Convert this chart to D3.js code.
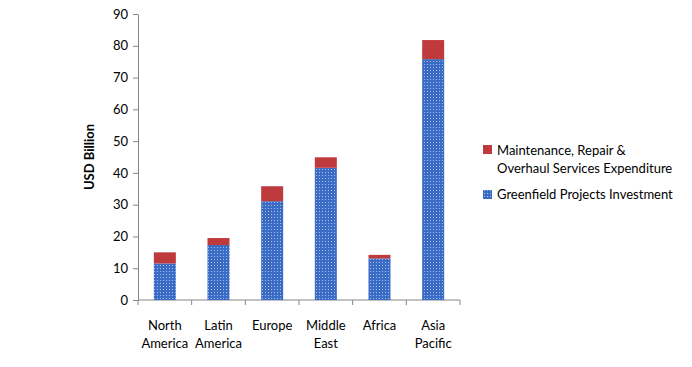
<!DOCTYPE html>
<html><head><meta charset="utf-8">
<script src="https://cdn.jsdelivr.net/npm/d3@7"></script>
<style>body{margin:0;background:#fff}text{font-family:Lato,"Open Sans",sans-serif}</style>
</head><body><svg id="c" width="692" height="367"></svg>
<script>
const categories = ["North America","Latin America","Europe","Middle East","Africa","Asia Pacific"];
const categoryLines = [["North","America"],["Latin","America"],["Europe"],["Middle","East"],["Africa"],["Asia","Pacific"]];
const greenfield = [11.5, 17.3, 31.1, 41.6, 13.1, 75.8];
const mro = [3.5, 2.2, 4.7, 3.3, 1.1, 6.0];
const yTicks = [0,10,20,30,40,50,60,70,80,90];
const seriesNames = ["Maintenance, Repair & Overhaul Services Expenditure","Greenfield Projects Investment"];

const svg = d3.select("#c");
const defs = svg.append("defs");
const pat = defs.append("pattern").attr("id","dots").attr("patternUnits","userSpaceOnUse").attr("width",3).attr("height",3);
pat.append("rect").attr("width",3).attr("height",3).attr("fill","#3b6cc5");
pat.append("rect").attr("x",1).attr("y",1).attr("width",1).attr("height",1).attr("fill","#a9c0ea");

const x = d3.scaleBand().domain(categories).range([138,460]).paddingInner(0.59).paddingOuter(0.295);
const y = d3.scaleLinear().domain([0,90]).range([300,14]);

const yAxis = svg.append("g").attr("transform","translate(138,0)")
  .call(d3.axisLeft(y).tickValues(yTicks).tickSize(5).tickSizeOuter(0).tickPadding(5));
yAxis.select(".domain").attr("stroke","#868686");
yAxis.selectAll(".tick line").attr("stroke","#868686");
yAxis.selectAll("text").attr("font-size",13).attr("fill","#000");

const xb = d3.scaleLinear().domain([0,categories.length]).range([138,460]);
const xg = svg.append("g");
xg.append("line").attr("x1",138).attr("x2",460).attr("y1",y(0)).attr("y2",y(0)).attr("stroke","#868686");
xg.selectAll("line.t").data(d3.range(categories.length+1)).join("line").attr("class","t")
  .attr("x1",d=>xb(d)).attr("x2",d=>xb(d)).attr("y1",y(0)).attr("y2",y(0)+5).attr("stroke","#868686");

const data = categories.map((c,i)=>({c, g:greenfield[i], m:mro[i]}));
svg.append("g").selectAll("rect").data(data).join("rect")
  .attr("x",d=>x(d.c)).attr("width",x.bandwidth())
  .attr("y",d=>y(d.g)).attr("height",d=>y(0)-y(d.g)).attr("fill","url(#dots)");
svg.append("g").selectAll("rect").data(data).join("rect")
  .attr("x",d=>x(d.c)).attr("width",x.bandwidth())
  .attr("y",d=>y(d.g+d.m)).attr("height",d=>y(d.g)-y(d.g+d.m)).attr("fill","#be3a3c");

const lab = svg.append("g");
categories.forEach((c,i)=>{
  const t = lab.append("text").attr("x",x(c)+x.bandwidth()/2).attr("y",330).attr("text-anchor","middle").attr("font-size",13).attr("fill","#000");
  categoryLines[i].forEach((l,j)=>t.append("tspan").attr("x",x(c)+x.bandwidth()/2).attr("dy",j?18:0).text(l));
});

svg.append("text").attr("transform","translate(94,157) rotate(-90)").attr("text-anchor","middle")
  .attr("font-size",13).attr("font-weight","bold").text("USD Billion");

const lg = svg.append("g");
lg.append("rect").attr("x",483).attr("y",145).attr("width",9).attr("height",9).attr("fill","#be3a3c");
const t1 = lg.append("text").attr("x",497).attr("y",155).attr("font-size",13).attr("fill","#000");
t1.append("tspan").attr("x",497).text("Maintenance, Repair &");
t1.append("tspan").attr("x",497).attr("dy",18).text("Overhaul Services Expenditure");
lg.append("rect").attr("x",483).attr("y",190).attr("width",9).attr("height",9).attr("fill","url(#dots)");
lg.append("text").attr("x",497).attr("y",199).attr("font-size",13).attr("fill","#000").text(seriesNames[1]);
</script></body></html>
